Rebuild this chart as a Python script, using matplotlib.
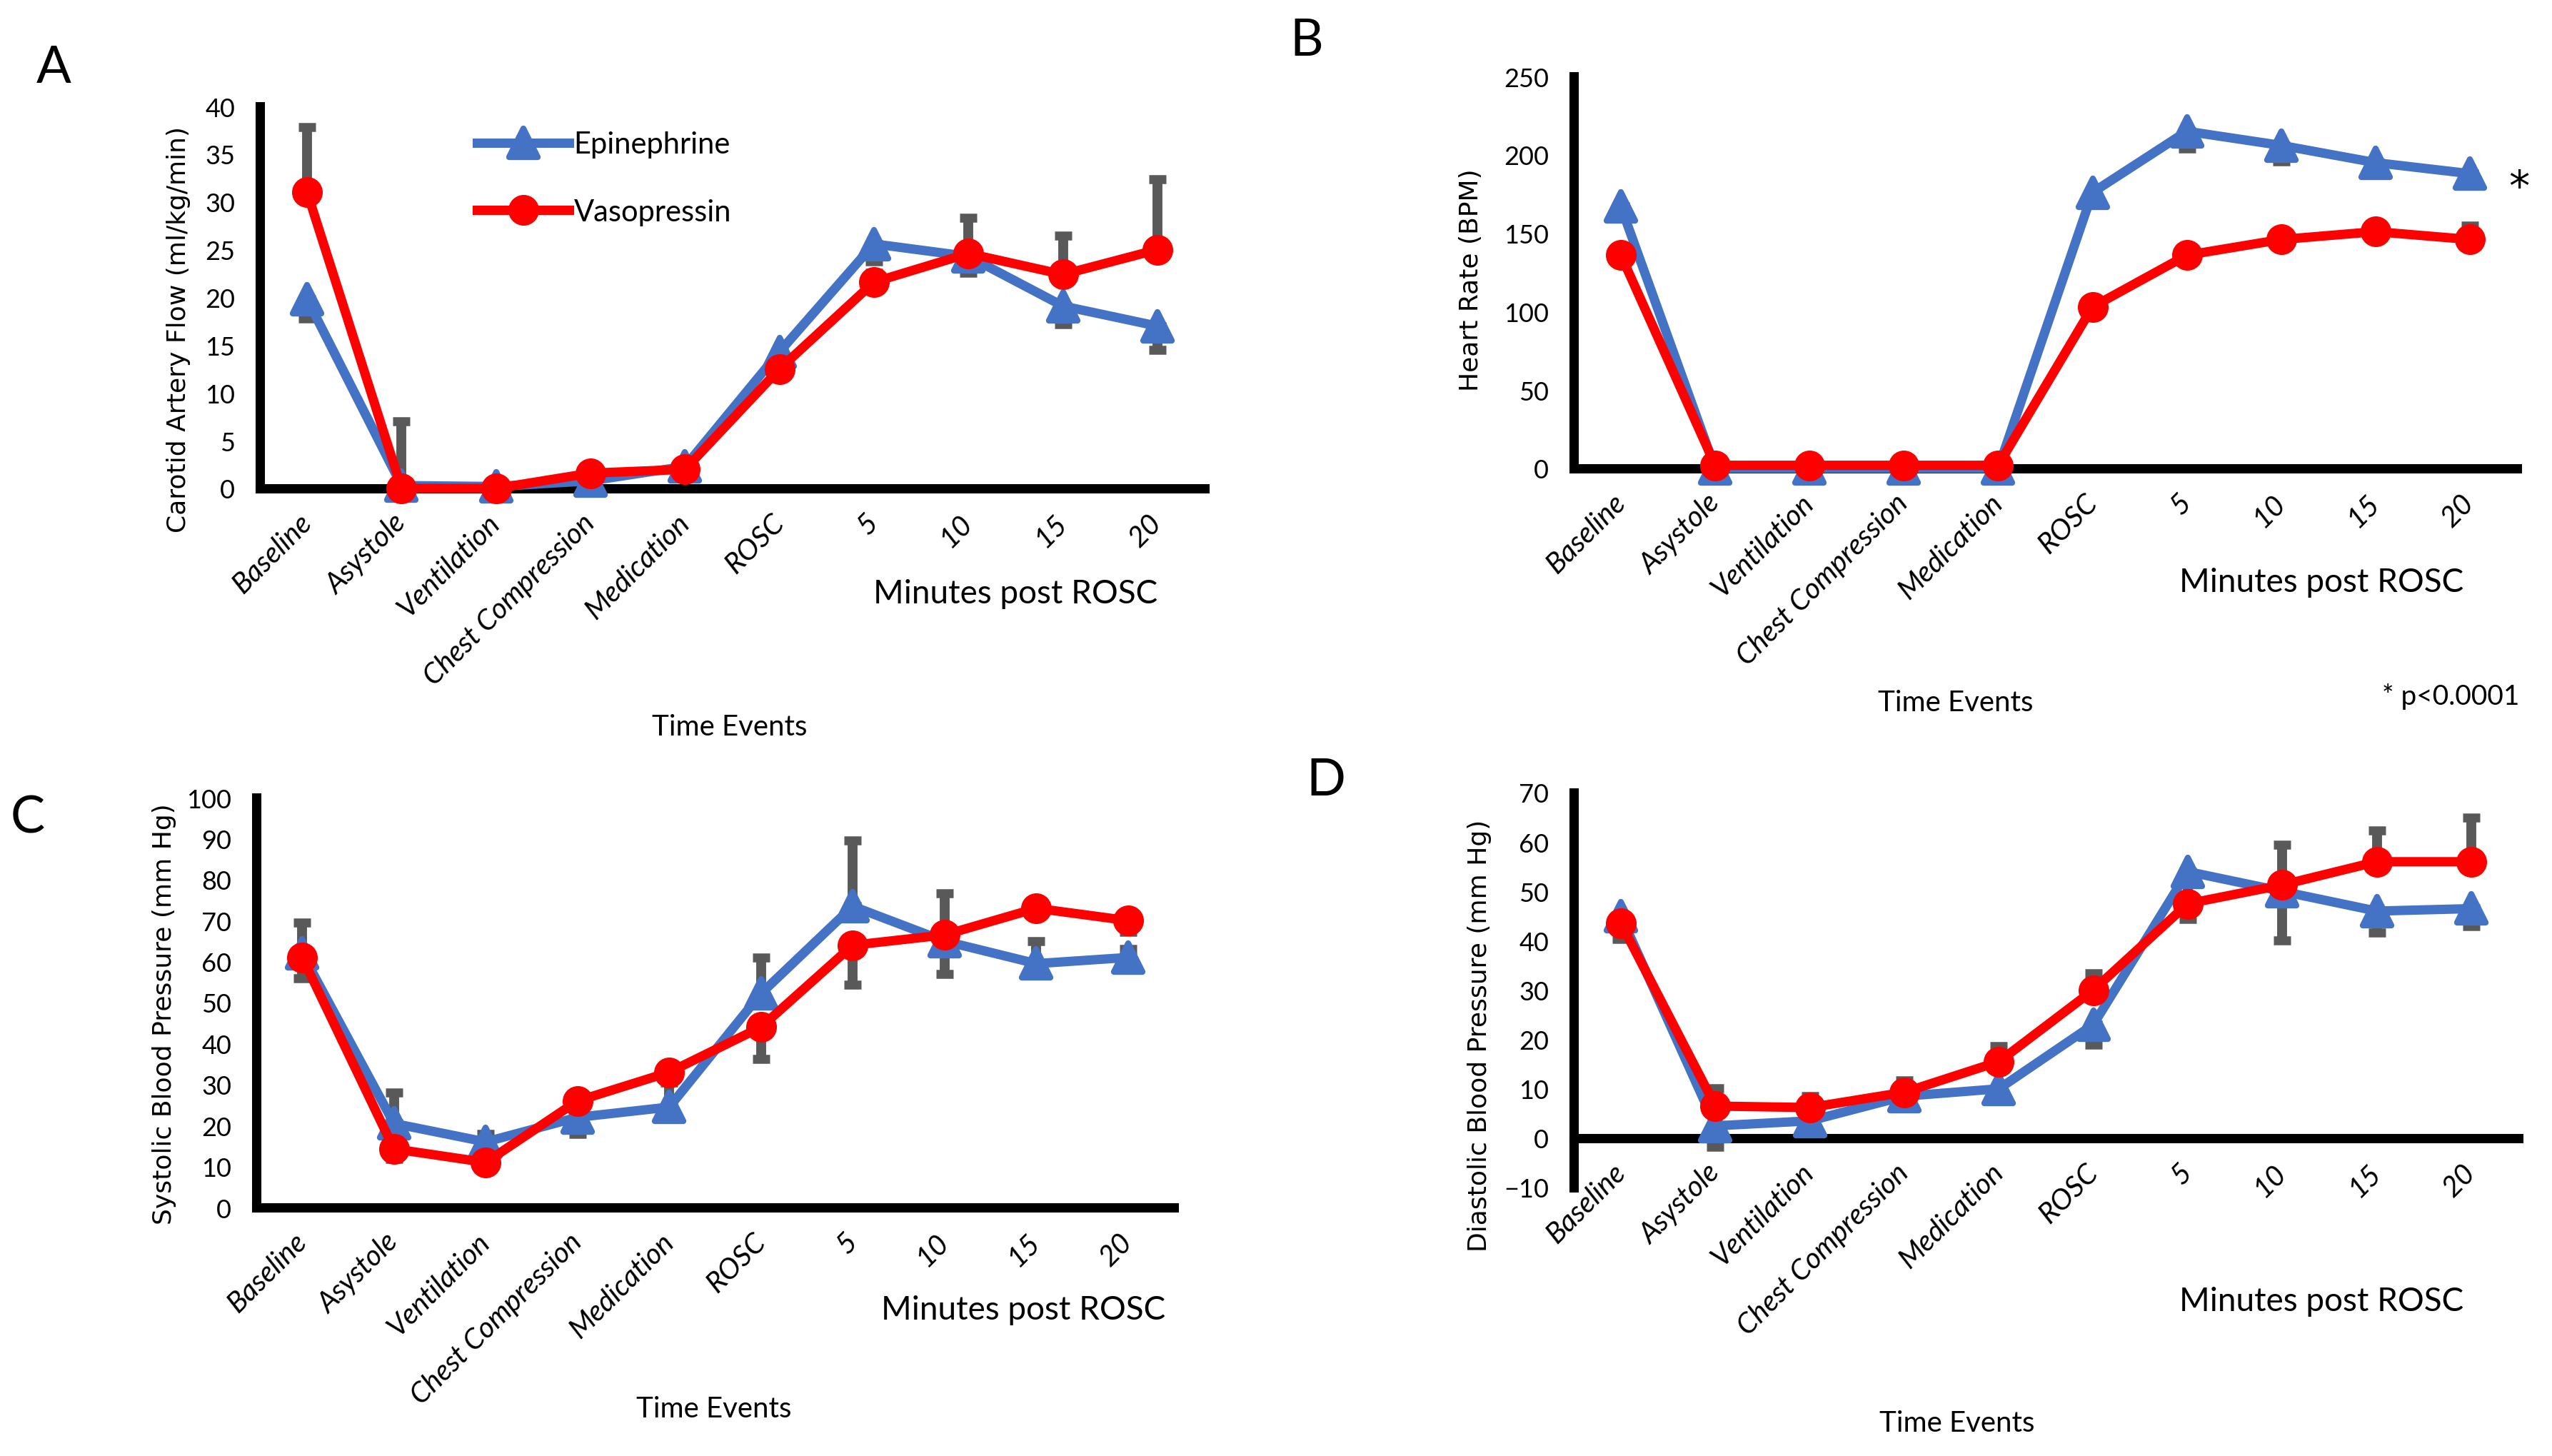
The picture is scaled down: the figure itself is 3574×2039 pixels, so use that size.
import numpy as np
import matplotlib
matplotlib.use('Agg')
import matplotlib.pyplot as plt
from matplotlib.markers import MarkerStyle

plt.rcParams['font.family'] = ['Lato', 'DejaVu Sans']

events = ['Baseline', 'Asystole', 'Ventilation', 'Chest Compression', 'Medication',
          'ROSC', '5', '10', '15', '20']

# A - carotid artery flow
flow_epi = [19.8, 0.3, 0.2, 0.8, 2.3, 14.3, 25.6, 24.3, 19.1, 17.0]
flow_epi_lo = [2.0, 0.3, 0.2, 0.5, 0.5, 1.0, 1.8, 1.7, 1.9, 2.5]
flow_epi_hi = [0, 0, 0, 0, 0, 0, 0, 0, 0, 0]
flow_vaso = [31.0, 0.0, 0.0, 1.6, 2.0, 12.5, 21.6, 24.6, 22.4, 25.0]
flow_vaso_lo = [0, 0, 0, 0, 0, 0, 0, 0, 0, 0]
flow_vaso_hi = [6.8, 7.0, 0.2, 0.5, 0.5, 1.0, 1.0, 3.7, 4.1, 7.4]

# B - heart rate
hr_epi = [167, 0, 0, 0, 0, 176, 215, 206, 195, 188]
hr_epi_lo = [5, 0, 0, 0, 0, 5, 11, 10, 7, 6]
hr_epi_hi = [0, 0, 0, 0, 0, 0, 0, 0, 0, 0]
hr_vaso = [136, 2, 2, 2, 2, 103, 136, 146, 151, 146]
hr_vaso_lo = [0, 0, 0, 0, 0, 0, 0, 0, 0, 0]
hr_vaso_hi = [3, 0, 0, 0, 0, 3, 3, 4, 3, 9]

# C - systolic blood pressure
sbp_epi = [62, 20.5, 16, 22, 24.5, 52.2, 73.5, 65, 59.5, 61]
sbp_epi_lo = [0, 0, 0, 0, 0, 0, 0, 0, 0, 0]
sbp_epi_hi = [7.5, 7.5, 2, 1, 6, 8.8, 16, 11.7, 5.5, 2]
sbp_vaso = [61, 14.3, 11, 26, 33, 44, 64, 66.5, 73, 70]
sbp_vaso_lo = [5, 2.5, 1, 8, 1, 7.7, 9.6, 9.5, 1.5, 2.7]
sbp_vaso_hi = [0, 0, 0, 0, 0, 0, 0, 0, 0, 0]

# D - diastolic blood pressure
dbp_epi = [45, 2.5, 3.5, 8.5, 10, 23, 54, 50, 46, 46.5]
dbp_epi_lo = [4.7, 4.3, 1, 1, 1, 4, 9.6, 10, 4.3, 3.5]
dbp_epi_hi = [0, 0, 0, 0, 0, 0, 0, 0, 0, 0]
dbp_vaso = [43.5, 6.5, 6.2, 9.3, 15.5, 30, 47.5, 51.3, 56, 56]
dbp_vaso_lo = [0, 0, 0, 0, 0, 0, 0, 0, 0, 0]
dbp_vaso_hi = [1, 3.6, 2.3, 2.4, 3.1, 3.4, 1, 8.1, 6.4, 9]

BLUE = '#4472C4'
RED = '#FF0000'
GREY = '#595959'

W, H = 3574, 2040
fig = plt.figure(figsize=(W / 200, H / 200), dpi=200)


def px_box(l, r, t, b):
    return [l / W, 1 - b / H, (r - l) / W, (b - t) / H]


def ftext(x, y, s, **kw):
    fig.text(x / W, 1 - y / H, s, **kw)


def draw_panel(box, epi, epi_lo, epi_hi, vaso, vaso_lo, vaso_hi, ylim, yticks):
    ax = fig.add_axes(box)
    ax.set_facecolor('none')
    x = np.arange(len(events))
    ax.errorbar(x, epi, yerr=[epi_lo, epi_hi], fmt='none', ecolor=GREY,
                elinewidth=5, capsize=4.2, capthick=4.5, zorder=2)
    ax.errorbar(x, vaso, yerr=[vaso_lo, vaso_hi], fmt='none', ecolor=GREY,
                elinewidth=5, capsize=4.2, capthick=4.5, zorder=2)
    tri = MarkerStyle('^', joinstyle='round')
    ax.plot(x, epi, color=BLUE, lw=4.7, marker=tri, ms=14.5, mew=3, mec=BLUE,
            solid_joinstyle='round', zorder=4, clip_on=False, label='Epinephrine')
    ax.plot(x, vaso, color=RED, lw=4.7, marker='o', ms=15.5, mew=0,
            solid_joinstyle='round', zorder=5, clip_on=False, label='Vasopressin')
    ax.set_xlim(-0.5, 9.5)
    ax.set_ylim(*ylim)
    ax.set_yticks(yticks)
    for s in ['top', 'right']:
        ax.spines[s].set_visible(False)
    for s in ['left', 'bottom']:
        ax.spines[s].set_linewidth(4.7)
        ax.spines[s].set_color('black')
    ax.spines['bottom'].set_position(('data', 0))
    ax.tick_params(length=0)
    ax.tick_params(axis='y', pad=12.5, labelsize=13)
    ax.set_xticks(x)
    ax.set_xticklabels(events, rotation=45, ha='right', va='center',
                       rotation_mode='anchor', fontstyle='italic', fontsize=14.5)
    ax.tick_params(axis='x', pad=15)
    return ax


axA = draw_panel(px_box(364, 1687, 150, 685), flow_epi, flow_epi_lo, flow_epi_hi,
                 flow_vaso, flow_vaso_lo, flow_vaso_hi, (0, 40), np.arange(0, 41, 5))
axB = draw_panel(px_box(2204, 3525, 108, 657), hr_epi, hr_epi_lo, hr_epi_hi,
                 hr_vaso, hr_vaso_lo, hr_vaso_hi, (0, 250), np.arange(0, 251, 50))
axC = draw_panel(px_box(359, 1644, 1118, 1692), sbp_epi, sbp_epi_lo, sbp_epi_hi,
                 sbp_vaso, sbp_vaso_lo, sbp_vaso_hi, (0, 100), np.arange(0, 101, 10))
axD = draw_panel(px_box(2204, 3527, 1111, 1664), dbp_epi, dbp_epi_lo, dbp_epi_hi,
                 dbp_vaso, dbp_vaso_lo, dbp_vaso_hi, (-10, 70), np.arange(-10, 71, 10))

axA.legend(loc='center left', bbox_to_anchor=(0.23, 0.812), frameon=False,
           fontsize=15, handlelength=3.1, handletextpad=0.15, labelspacing=1.35,
           borderpad=0, borderaxespad=0, numpoints=1)

# panel letters
ftext(75, 96, 'A', fontsize=26, ha='center', va='center')
ftext(1830, 57, 'B', fontsize=26, ha='center', va='center')
ftext(39, 1146, 'C', fontsize=26, ha='center', va='center')
ftext(1857, 1094, 'D', fontsize=26, ha='center', va='center')

# y labels
ylab = dict(rotation=90, ha='center', va='center', family='DejaVu Sans', fontsize=13)
ftext(250, 461, 'Carotid Artery Flow (ml/kg/min)', **ylab)
ftext(2060, 392, 'Heart Rate (BPM)', **ylab)
ftext(230, 1420, 'Systolic Blood Pressure (mm Hg)', **ylab)
ftext(2072, 1450, 'Diastolic Blood Pressure (mm Hg)', **ylab)

# x annotations
ftext(1422, 832, 'Minutes post ROSC', fontsize=16.5, ha='center', va='center')
ftext(3251, 816, 'Minutes post ROSC', fontsize=16.5, ha='center', va='center')
ftext(1433, 1835, 'Minutes post ROSC', fontsize=16.5, ha='center', va='center')
ftext(3251, 1823, 'Minutes post ROSC', fontsize=16.5, ha='center', va='center')

ftext(1022, 1019, 'Time Events', fontsize=14.5, ha='center', va='center')
ftext(2739, 985, 'Time Events', fontsize=14.5, ha='center', va='center')
ftext(1000, 1974, 'Time Events', fontsize=14.5, ha='center', va='center')
ftext(2741, 1994, 'Time Events', fontsize=14.5, ha='center', va='center')

ftext(3528, 264, '*', fontsize=21, ha='center', va='center', family='DejaVu Sans')
ftext(3528, 975, '* p<0.0001', fontsize=14, ha='right', va='center')

fig.savefig('out.png', dpi=200, facecolor='white')
